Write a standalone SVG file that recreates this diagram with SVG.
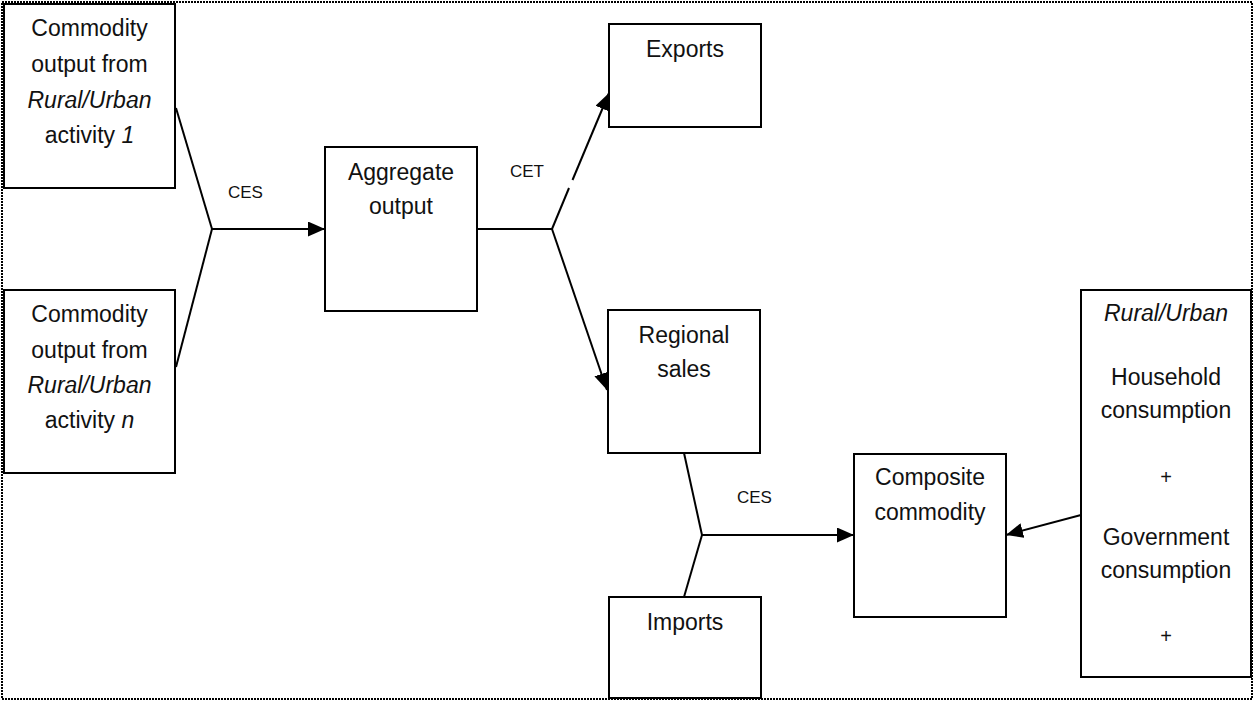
<svg xmlns="http://www.w3.org/2000/svg" width="1254" height="702" viewBox="0 0 1254 702">
  <style>
    .box { fill: #ffffff; stroke: #000000; stroke-width: 2; }
    .t { font-family: "Liberation Sans", Arial, sans-serif; font-size: 23px; fill: #111111; text-anchor: middle; }
    .lbl { font-family: "Liberation Sans", Arial, sans-serif; font-size: 17px; fill: #111111; }
    .plus { font-family: "Liberation Sans", Arial, sans-serif; font-size: 20px; fill: #111111; text-anchor: middle; }
    .it { font-style: italic; }
    .conn line { stroke: #000000; stroke-width: 2; fill: none; }
    .frame { fill: none; stroke: #000000; stroke-width: 2; stroke-dasharray: 2 1; }
  </style>
  <defs>
    <marker id="ah" markerWidth="18" markerHeight="15" refX="17" refY="7.5" orient="auto" markerUnits="userSpaceOnUse">
      <path d="M0,0 L17,7.5 L0,15 z" fill="#000000"/>
    </marker>
  </defs>
  <rect width="1254" height="702" fill="#ffffff"/>
  <rect class="frame" x="2" y="2" width="1250" height="697"/>

  <g id="connectors" class="conn">
    <line x1="176" y1="108" x2="212" y2="229"/>
    <line x1="176" y1="367" x2="212" y2="229"/>
    <line x1="212" y1="229" x2="325" y2="229" marker-end="url(#ah)"/>
    <line x1="477" y1="229" x2="552" y2="229"/>
    <line x1="552" y1="229" x2="569" y2="188"/>
    <line x1="572.5" y1="180" x2="609" y2="93" marker-end="url(#ah)"/>
    <line x1="552" y1="229" x2="607" y2="390" marker-end="url(#ah)"/>
    <line x1="684" y1="453" x2="702" y2="535"/>
    <line x1="684" y1="597" x2="702" y2="535"/>
    <line x1="702" y1="535" x2="854" y2="535" marker-end="url(#ah)"/>
    <line x1="1081" y1="515" x2="1006" y2="535" marker-end="url(#ah)"/>
  </g>

  <g id="labels">
    <text class="lbl" x="228" y="198">CES</text>
    <text class="lbl" x="510" y="177">CET</text>
    <text class="lbl" x="737" y="503">CES</text>
  </g>

  <g id="activity1">
    <rect class="box" x="4" y="4" width="171" height="184"/>
    <text class="t" x="89.5" y="36">Commodity</text>
    <text class="t" x="89.5" y="72">output from</text>
    <text class="t it" x="89.5" y="108">Rural/Urban</text>
    <text class="t" x="89.5" y="143">activity <tspan class="it">1</tspan></text>
  </g>

  <g id="activityN">
    <rect class="box" x="4" y="290" width="171" height="183"/>
    <text class="t" x="89.5" y="322">Commodity</text>
    <text class="t" x="89.5" y="358">output from</text>
    <text class="t it" x="89.5" y="393">Rural/Urban</text>
    <text class="t" x="89.5" y="428">activity <tspan class="it">n</tspan></text>
  </g>

  <g id="aggregate">
    <rect class="box" x="325" y="147" width="152" height="164"/>
    <text class="t" x="401" y="180">Aggregate</text>
    <text class="t" x="401" y="214">output</text>
  </g>

  <g id="exports">
    <rect class="box" x="609" y="24" width="152" height="103"/>
    <text class="t" x="685" y="57">Exports</text>
  </g>

  <g id="regional">
    <rect class="box" x="608" y="310" width="152" height="143"/>
    <text class="t" x="684" y="343">Regional</text>
    <text class="t" x="684" y="377">sales</text>
  </g>

  <g id="imports">
    <rect class="box" x="609" y="597" width="152" height="101"/>
    <text class="t" x="685" y="630">Imports</text>
  </g>

  <g id="composite">
    <rect class="box" x="854" y="454" width="152" height="163"/>
    <text class="t" x="930" y="485">Composite</text>
    <text class="t" x="930" y="520">commodity</text>
  </g>

  <g id="demand">
    <rect class="box" x="1081" y="290" width="170" height="387"/>
    <text class="t it" x="1166" y="321">Rural/Urban</text>
    <text class="t" x="1166" y="385">Household</text>
    <text class="t" x="1166" y="418">consumption</text>
    <text class="plus" x="1166" y="484">+</text>
    <text class="t" x="1166" y="545">Government</text>
    <text class="t" x="1166" y="578">consumption</text>
    <text class="plus" x="1166" y="643">+</text>
  </g>
</svg>
